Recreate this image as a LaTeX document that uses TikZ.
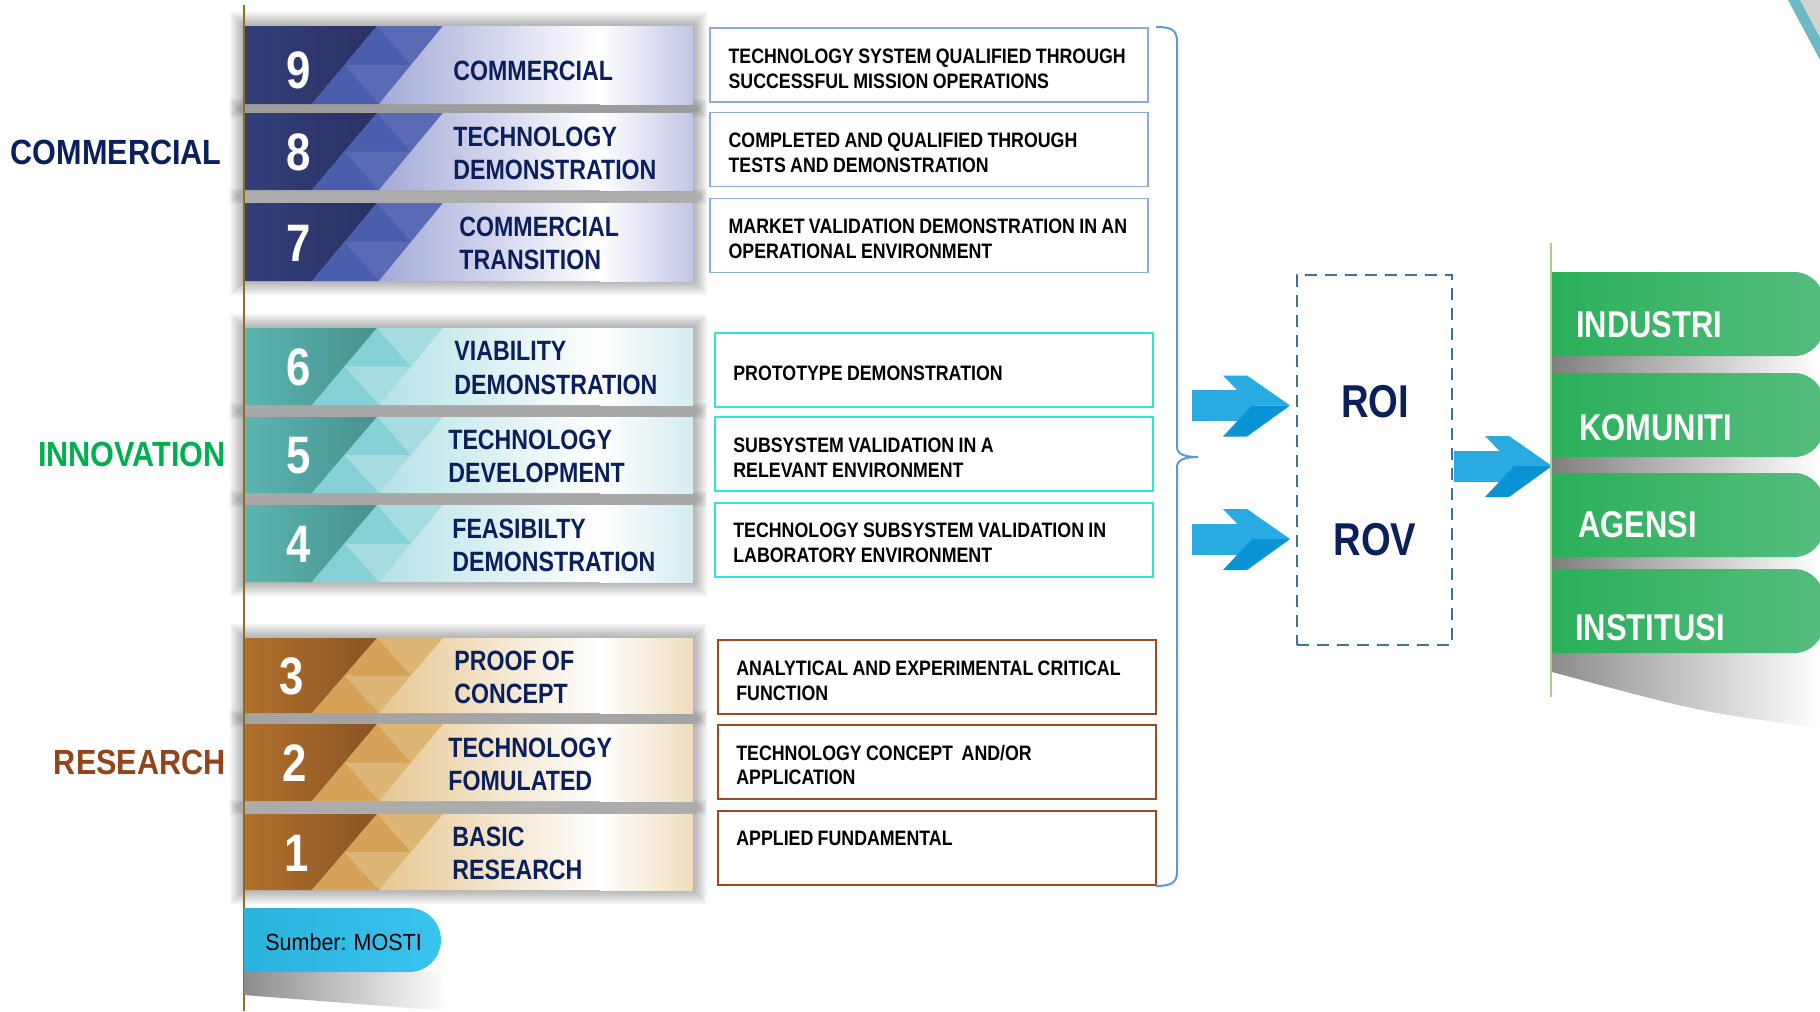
\documentclass[tikz,border=0pt]{standalone}
\usepackage{fontspec}
\setmainfont{Liberation Sans}
\newfontfamily\narrowsans[FakeStretch=0.83, WordSpace=0.8]{Liberation Sans}
\newfontfamily\descsans[FakeStretch=0.85, WordSpace=0.88]{Liberation Sans}
\newfontfamily\catsans[FakeStretch=0.875, WordSpace=0.8]{Liberation Sans}
\newfontfamily\srcsans[FakeStretch=0.92, WordSpace=0.85]{Liberation Sans}

\definecolor{navytext}{HTML}{0B1F5C}
\definecolor{innoGreen}{HTML}{00B050}
\definecolor{resBrown}{HTML}{92451A}
\definecolor{bluDark}{HTML}{333E7A}
\definecolor{bluDeep}{HTML}{293263}
\definecolor{bluMidA}{HTML}{4A5EAD}
\definecolor{bluMidB}{HTML}{5A6AB4}
\definecolor{bluLightL}{HTML}{A3AAD8}
\definecolor{bluLightR}{HTML}{C2C5E6}
\definecolor{teaDark}{HTML}{5BB5B1}
\definecolor{teaDeep}{HTML}{47928E}
\definecolor{teaMidA}{HTML}{86D1D6}
\definecolor{teaMidB}{HTML}{A6DCE0}
\definecolor{teaLightL}{HTML}{B5E2E6}
\definecolor{teaLightR}{HTML}{D4ECF0}
\definecolor{gldDark}{HTML}{B0702C}
\definecolor{gldDeep}{HTML}{8A5523}
\definecolor{gldMidA}{HTML}{D4A357}
\definecolor{gldMidB}{HTML}{DDB574}
\definecolor{gldLightL}{HTML}{E6C792}
\definecolor{gldLightR}{HTML}{EEDDBC}
\definecolor{comBox}{HTML}{8FAADC}
\definecolor{innBox}{HTML}{2EE6D6}
\definecolor{resBox}{HTML}{9C4A1E}
\definecolor{braceBlue}{HTML}{5B9BD5}
\definecolor{dashBlue}{HTML}{41719C}
\definecolor{chevA}{HTML}{29ABE2}
\definecolor{chevB}{HTML}{0A93D5}
\definecolor{grnL}{HTML}{2AB05A}
\definecolor{grnR}{HTML}{55BD7E}
\definecolor{lineGreen}{HTML}{A9D18E}
\definecolor{lineGold}{HTML}{8E6F1C}
\definecolor{pillL}{HTML}{29B3DC}
\definecolor{pillR}{HTML}{3AC3EE}
\definecolor{cornerTeal}{HTML}{6FB8C5}
\definecolor{cornerGray}{HTML}{D3D3D3}

\tikzset{
  bandnum/.style={text=white, inner sep=0pt, font=\narrowsans\bfseries\fontsize{30}{30}\selectfont},
  bandlabel/.style={anchor=west, inner sep=0pt, align=left, text=navytext, font=\narrowsans\bfseries\fontsize{15.9}{18.8}\selectfont},
  catlabel/.style={anchor=east, inner sep=0pt, font=\catsans\bfseries\fontsize{19.9}{20}\selectfont},
  descbox/.style={draw=#1, line width=0.4mm, minimum width=87.6mm, minimum height=14.8mm, inner sep=0pt},
  desctext/.style={anchor=west, inner sep=0pt, align=left, font=\descsans\bfseries\fontsize{11.9}{14.2}\selectfont},
  retlabel/.style={inner sep=0pt, text=navytext, font=\narrowsans\bfseries\fontsize{26.2}{26}\selectfont},
  tablabel/.style={anchor=west, inner sep=0pt, text=white, font=\narrowsans\bfseries\fontsize{21.2}{21}\selectfont},
}

\begin{document}
\begin{tikzpicture}[x=0.2mm, y=-0.2mm]

\useasboundingbox (0,0) rectangle (1820,1011);
\fill[white] (0,0) rectangle (1820,1011);

% corner
\fill[cornerGray] (1800,0) -- (1820,0) -- (1820,38) -- cycle;
\fill[cornerTeal] (1788,0) -- (1800,0) -- (1820,38) -- (1820,60) -- cycle;

% shadows of the bands
\foreach \t/\b in {26/104,113/190,203/281,328/405,417/493,505/582,638/713,724/801,814/890}
  \foreach \i in {1,...,7}
    \fill[black, opacity=0.045] ({244-2*\i},{\t-2*\i}) rectangle ({693+2*\i},{\b+2*\i});

% bands
\foreach \n/\t/\b/\nx/\lx/\ly/\lab/\pal in {
  9/26/104/299/453/4/{COMMERCIAL}/blu,
  8/113/190/299/453/0/{TECHNOLOGY\\DEMONSTRATION}/blu,
  7/203/281/299/459/0/{COMMERCIAL\\TRANSITION}/blu,
  6/328/405/299/454/0/{VIABILITY\\DEMONSTRATION}/tea,
  5/417/493/299/448/0/{TECHNOLOGY\\DEVELOPMENT}/tea,
  4/505/582/299/452/0/{FEASIBILTY\\DEMONSTRATION}/tea,
  3/638/713/292/454/0/{PROOF OF\\CONCEPT}/gld,
  2/724/801/295/448/0/{TECHNOLOGY\\FOMULATED}/gld,
  1/814/890/297/452/0/{BASIC\\RESEARCH}/gld}
{
  \pgfmathsetmacro\m{(\t+\b)/2}
  \shade[left color=\pal Dark, middle color=\pal Dark, right color=\pal Deep] (244,\t) -- (377,\t) -- (312,\b) -- (244,\b) -- cycle;
  \fill[fill=\pal MidA] (377,\t) -- (443,\t) -- (379,\b) -- (312,\b) -- cycle;
  \fill[fill=\pal MidB] (377,\t) -- (443,\t) -- (411,\m) -- cycle;
  \fill[fill=\pal MidB] (344.5,\m) -- (411,\m) -- (379,\b) -- cycle;
  \shade[left color=\pal LightL, right color=white] (443,\t) -- (600,\t) -- (600,\b) -- (379,\b) -- cycle;
  \shade[left color=white, right color=\pal LightR] (600,\t) rectangle (693,\b);
  \node[bandnum] (n\n) at ({\nx},{\m+1+\ly}) {\n};
  \node[bandlabel] (l\n) at ({\lx},{\m+1.5+\ly}) {\lab};
}

\draw[lineGold, line width=0.4mm] (244,5) -- (244,1011);

% groups
\node[catlabel, text=navytext] (ccom) at (222,152.5) {COMMERCIAL};
\node[catlabel, text=innoGreen] (cinn) at (226,454.5) {INNOVATION};
\node[catlabel, text=resBrown] (cres) at (226,762.5) {RESEARCH};

% descriptions
\node[descbox=comBox, line width=0.3mm] (d9) at (929,65) {};
\node[descbox=comBox, line width=0.3mm] (d8) at (929,149.5) {};
\node[descbox=comBox, line width=0.3mm] (d7) at (929,235.5) {};
\node[descbox=innBox] (d6) at (934,370) {};
\node[descbox=innBox] (d5) at (934,454) {};
\node[descbox=innBox] (d4) at (934,539.5) {};
\node[descbox=resBox] (d3) at (937,677) {};
\node[descbox=resBox] (d2) at (937,761.5) {};
\node[descbox=resBox] (d1) at (937,847.5) {};

\node[desctext] (t9) at ([xshift=3.8mm, yshift=-0.7mm]d9.west) {TECHNOLOGY SYSTEM QUALIFIED THROUGH\\SUCCESSFUL MISSION OPERATIONS};
\node[desctext] (t8) at ([xshift=3.8mm, yshift=-0.7mm]d8.west) {COMPLETED AND QUALIFIED THROUGH\\TESTS AND DEMONSTRATION};
\node[desctext] (t7) at ([xshift=3.8mm, yshift=-0.7mm]d7.west) {MARKET VALIDATION DEMONSTRATION IN AN\\OPERATIONAL ENVIRONMENT};
\node[desctext] (t6) at ([xshift=3.8mm, yshift=-0.7mm]d6.west) {PROTOTYPE DEMONSTRATION};
\node[desctext] (t5) at ([xshift=3.8mm, yshift=-0.7mm]d5.west) {SUBSYSTEM VALIDATION IN A\\RELEVANT ENVIRONMENT};
\node[desctext] (t4) at ([xshift=3.8mm, yshift=-0.7mm]d4.west) {TECHNOLOGY SUBSYSTEM VALIDATION IN\\LABORATORY ENVIRONMENT};
\node[desctext] (t3) at ([xshift=3.8mm, yshift=-0.7mm]d3.west) {ANALYTICAL AND EXPERIMENTAL CRITICAL\\FUNCTION};
\node[desctext] (t2) at ([xshift=3.8mm, yshift=-0.7mm]d2.west) {TECHNOLOGY CONCEPT~ AND/OR\\APPLICATION};
\node[desctext] (t1) at ([xshift=3.8mm, yshift=1.9mm]d1.west) {APPLIED FUNDAMENTAL};

% brace
\draw[braceBlue, line width=0.4mm] (1156,27) .. controls (1172,27) and (1177,30) .. (1177,42) -- (1177,447) .. controls (1177,454) and (1184,457) .. (1198,457) .. controls (1184,457) and (1177,460) .. (1177,467) -- (1177,872) .. controls (1177,882) and (1172,886) .. (1156,886);

% return box
\node[draw=dashBlue, dash pattern=on 2.4mm off 1.6mm, line width=0.5mm, minimum width=31mm, minimum height=74mm, inner sep=0pt] (rbox) at (1374.5,460) {};
\node[retlabel] (roi) at (1375,402) {ROI};
\node[retlabel] (rov) at (1375,540) {ROV};

% arrows
\coordinate (aroi) at (1192,405.5);
\coordinate (arov) at (1192,539);
\coordinate (aout) at (1454,466);
\foreach \c in {aroi,arov,aout} {
  \begin{scope}[shift={(\c)}]
    \fill[chevA] (0,-15.5) rectangle (62,15.5);
    \fill[chevA] (31,-30) -- (55,-30) -- (98,0) -- (60,0) -- cycle;
    \fill[chevB] (60,0) -- (98,0) -- (55,31) -- (31,31) -- cycle;
  \end{scope}
}

% green tabs
\shade[left color=black!50, right color=white] (1552,340) rectangle (1820,580);
\shade[left color=black!45, right color=white] (1552,650) -- (1820,650) -- (1820,728) .. controls (1700,712) .. (1552,672) -- cycle;
\draw[lineGreen, line width=0.4mm] (1551,243) -- (1551,697);
\foreach \t/\b/\tx/\ty/\lab/\nm in {272/356/1576/325/INDUSTRI/tind, 373/457/1579/428/KOMUNITI/tkom, 473/557/1578/525/AGENSI/tage, 569/653/1575/628/INSTITUSI/tins} {
  \shade[left color=grnL, right color=grnR] (1552,\t) -- (1794,\t) arc[start angle=90, end angle=0, radius=6mm] -- (1824,{\b-30}) arc[start angle=0, end angle=-90, radius=6mm] -- (1552,\b) -- cycle;
  \node[tablabel] (\nm) at (\tx,\ty) {\lab};
}

% source
\shade[left color=black!45, right color=white] (244,972) -- (441,972) -- (448,1011) -- (244,995) -- cycle;
\shade[left color=pillL, right color=pillR] (244,908) -- (409,908) arc[start angle=90, end angle=-90, radius=6.4mm] -- (244,972) -- cycle;
\node[anchor=west, inner sep=0pt, font=\srcsans\fontsize{13.3}{13}\selectfont] (src) at (265,942) {Sumber: MOSTI};

\end{tikzpicture}
\end{document}
